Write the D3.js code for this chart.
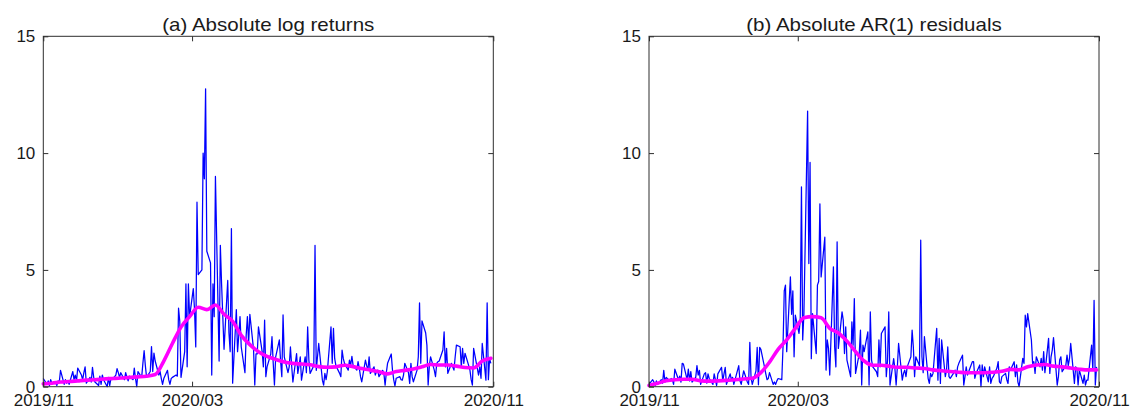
<!DOCTYPE html>
<html>
<head>
<meta charset="utf-8">
<script src="https://cdn.jsdelivr.net/npm/d3@7"></script>
<style>
  html, body { margin: 0; padding: 0; background: #fff; }
  svg { display: block; }
  text { font-family: "Liberation Sans", Arial, Helvetica, sans-serif; fill: #1a1a1a; }
</style>
</head>
<body>
<svg id="chart" width="1131" height="409"></svg>
<script>
// Daily absolute log returns (%), one value per trading day, Nov 2019 - Oct 2020
const absLogReturns = [
  0.35, 0.1, 0.25, 0.05, 0.3, 0.15, 0.2, 0.05, 0.25, 0.2,
  0.7, 0.1, 0.3, 0.15, 0.25, 0.1, 0.65, 0.3, 0.5, 0.25,
  0.8, 0.5, 0.3, 0.6, 0.85, 0.15, 0.4, 0.2, 0.83, 0.4,
  0.2, 0.05, 0.45, 0.1, 0.5, 0.3, 0.0, 0.4, 0.05, 0.35,
  0.3, 0.5, 0.77, 0.6, 0.4, 0.6, 0.3, 0.6, 0.4, 0.25,
  0.45, 0.3, 0.8, 0.35, 0.0, 0.65, 0.4, 1.0, 1.54, 0.9,
  0.4, 0.65, 1.72, 0.65, 1.44, 1.1, 0.5, 0.65, 0.35, 0.1,
  0.35, 0.7, 0.3, 0.1, 0.35, 0.4, 0.5, 0.45, 3.36, 2.8,
  0.4, 1.5, 4.4, 0.85, 4.4, 3.0, 4.2, 3.3, 1.7, 7.9,
  4.8, 5.0, 10.0, 8.9, 12.75, 5.8, 5.3, 0.5, 4.4, 3.0,
  9.0, 1.1, 6.05, 4.4, 3.0, 1.6, 4.55, 2.3, 1.5, 6.77,
  0.15, 3.3, 1.5, 2.2, 3.0, 1.7, 0.6, 2.2, 3.0, 1.85,
  3.1, 1.6, 0.07, 1.4, 1.4, 2.56, 1.5, 0.85, 2.85, 0.43,
  0.85, 1.4, 2.14, 1.0, 0.07, 1.28, 2.0, 1.1, 0.43, 3.07,
  1.28, 0.6, 0.85, 1.7, 0.9, 0.2, 1.42, 0.57, 0.9, 1.28,
  0.28, 1.28, 0.6, 2.56, 1.14, 0.57, 0.9, 6.05, 0.7, 1.28,
  1.85, 0.28, 0.07, 0.57, 0.3, 0.64, 2.56, 1.0, 2.5, 1.2,
  0.9, 0.57, 0.43, 1.57, 1.2, 1.0, 0.71, 1.14, 0.93, 1.3,
  0.9, 0.71, 1.07, 0.8, 0.43, 0.21, 1.14, 0.9, 0.71, 1.28,
  0.57, 0.85, 0.5, 0.64, 0.71, 0.43, 0.7, 0.57, 0.07, 0.6,
  1.0, 1.4, 0.71, 0.3, 0.03, 0.36, 0.43, 0.3, 0.28, 0.5,
  1.0, 0.6, 0.14, 1.0, 0.43, 0.21, 0.71, 1.28, 3.59, 1.0,
  2.82, 2.3, 1.78, 0.07, 0.9, 1.28, 0.71, 0.43, 1.0, 1.07,
  1.1, 1.57, 2.35, 0.85, 1.64, 0.57, 1.0, 0.85, 0.71, 1.28,
  1.78, 1.71, 0.85, 1.64, 1.0, 1.43, 0.9, 0.71, 0.3, 0.07,
  1.64, 0.78, 0.5, 0.85, 0.36, 1.85, 0.28, 3.59, 0.3, 1.2,
  1.0
];

// Daily absolute AR(1) residuals (%), same trading days
const absResiduals = [
  0.1, 0.3, 0.2, 0.05, 0.25, 0.1, 0.3, 0.15, 0.7, 0.2,
  0.4, 0.25, 0.35, 0.3, 0.1, 0.75, 0.3, 0.45, 0.2, 1.0,
  0.97, 0.3, 0.75, 0.25, 0.65, 0.2, 0.4, 0.9, 0.5, 0.7,
  0.1, 0.55, 0.6, 0.15, 0.55, 0.35, 0.1, 0.55, 0.3, 0.05,
  0.55, 0.83, 0.25, 0.55, 0.83, 0.1, 0.55, 0.3, 0.4, 0.1,
  0.3, 0.9, 0.25, 0.1, 0.4, 0.68, 0.2, 0.1, 1.9, 0.4,
  0.1, 0.68, 1.68, 0.08, 1.68, 1.6, 0.83, 0.55, 0.3, 0.35,
  0.6, 0.1, 0.2, 0.1, 0.25, 0.35, 0.3, 1.7, 4.1, 4.35,
  1.5, 4.7, 3.1, 4.1, 1.28, 3.06, 2.28, 2.85, 8.55, 2.0,
  3.13, 11.8, 5.27, 9.6, 1.2, 3.13, 1.42, 4.35, 4.5, 7.83,
  4.7, 6.4, 0.71, 2.0, 1.64, 0.5, 5.13, 1.7, 0.85, 6.2,
  1.64, 3.2, 2.85, 1.42, 2.56, 1.14, 0.43, 2.78, 1.78, 3.77,
  0.57, 1.42, 2.42, 0.07, 1.78, 1.5, 2.35, 0.07, 3.2, 1.14,
  0.85, 0.64, 0.43, 2.0, 0.85, 2.28, 2.56, 0.43, 1.14, 3.2,
  0.07, 1.2, 0.78, 0.07, 0.85, 1.85, 0.28, 0.57, 0.71, 0.43,
  0.85, 1.28, 2.42, 1.7, 0.43, 1.28, 0.9, 6.27, 1.28, 0.6,
  2.14, 0.36, 0.14, 0.57, 0.43, 0.57, 2.5, 0.28, 2.07, 0.14,
  2.0, 0.43, 0.71, 1.7, 0.43, 0.36, 0.6, 0.71, 0.43, 0.85,
  1.0, 1.35, 0.07, 0.43, 0.85, 0.5, 0.93, 1.07, 1.07, 0.36,
  0.57, 0.93, 0.0, 0.93, 0.43, 0.85, 0.21, 0.85, 0.14, 0.36,
  0.43, 0.8, 1.07, 0.21, 0.14, 0.43, 0.57, 0.3, 0.14, 0.85,
  0.71, 1.07, 0.43, 0.93, 0.21, 0.0, 1.21, 1.0, 3.06, 2.56,
  3.13, 2.0, 1.0, 1.07, 0.57, 1.28, 0.85, 1.21, 0.71, 1.5,
  0.6, 2.07, 0.57, 1.28, 1.57, 2.1, 0.07, 0.43, 1.14, 1.28,
  0.64, 0.9, 1.35, 0.9, 1.21, 1.85, 0.14, 0.85, 0.78, 0.07,
  0.71, 0.14, 0.5, 0.07, 0.28, 0.28, 1.78, 0.71, 3.7, 0.07,
  0.85
];

// Smoothed volatility level, sampled every fifth trading day
const trendStep = 5;
const trendReturns = [
  0.12, 0.15, 0.2, 0.22, 0.25, 0.28, 0.3, 0.33, 0.35, 0.37,
  0.4, 0.42, 0.45, 0.52, 1.1, 1.85, 2.55, 3.0, 3.4, 3.3,
  3.5, 3.1, 2.8, 2.2, 1.8, 1.5, 1.3, 1.17, 1.06, 1.0,
  0.97, 0.94, 0.86, 0.83, 0.85, 0.92, 0.86, 0.78, 0.71, 0.64,
  0.55, 0.65, 0.7, 0.76, 0.85, 0.95, 0.93, 0.93, 0.88, 0.82,
  0.8, 1.1, 1.22
];
const trendResiduals = [
  0.05, 0.15, 0.25, 0.3, 0.32, 0.32, 0.25, 0.24, 0.25, 0.27,
  0.3, 0.33, 0.36, 0.6, 1.05, 1.6, 2.0, 2.5, 2.95, 3.0,
  2.95, 2.5, 2.3, 1.95, 1.5, 1.1, 0.92, 0.92, 0.87, 0.83,
  0.83, 0.8, 0.78, 0.72, 0.68, 0.65, 0.62, 0.6, 0.6, 0.6,
  0.62, 0.66, 0.74, 0.72, 0.85, 0.93, 0.95, 0.88, 0.85, 0.8,
  0.75, 0.72, 0.72
];

const panelTitles = ["(a) Absolute log returns", "(b) Absolute AR(1) residuals"];
const yTicks = [0, 5, 10, 15];
const xTickLabels = ["2019/11", "2020/03", "2020/11"];

// Trading calendar: every weekday from the first to the last sample
const parseMonth = d3.timeParse("%Y/%m");
const firstDay = new Date(2019, 10, 1);
const lastDay = new Date(2020, 9, 30);
const tradingDays = d3.timeDay.range(firstDay, d3.timeDay.offset(lastDay, 1))
  .filter(d => d.getDay() !== 0 && d.getDay() !== 6);

const svg = d3.select("#chart");
const W = 1131, H = 409;
svg.append("rect").attr("width", W).attr("height", H).attr("fill", "#fff");

const plotW = 450;
const plotTop = 36.3, plotBottom = 386.7;
const panels = [
  { left: 43.3, values: absLogReturns, trend: trendReturns, title: panelTitles[0] },
  { left: 649, values: absResiduals, trend: trendResiduals, title: panelTitles[1] }
];

const xTickDates = xTickLabels.map(parseMonth);
const fmt = d3.timeFormat("%Y/%m");
const axisColor = "#2e2e2e";
const tickSize = "17px";
const titleSize = "18px";

panels.forEach(p => {
  const g = svg.append("g").attr("transform", `translate(${p.left},0)`);
  const x = d3.scaleTime().domain([xTickDates[0], xTickDates[2]]).range([0, plotW]);
  const y = d3.scaleLinear().domain([0, 15]).range([plotBottom, plotTop]);

  const series = p.values.map((v, i) => ({ date: tradingDays[i], v }));
  const trend = p.trend.map((v, k) => ({ date: tradingDays[Math.min(k * trendStep, tradingDays.length - 1)], v }));

  const line = d3.line().x(d => x(d.date)).y(d => y(d.v));

  g.append("path")
    .datum(series)
    .attr("d", line)
    .attr("fill", "none")
    .attr("stroke", "#0000ff")
    .attr("stroke-width", 1.25)
    .attr("stroke-linejoin", "round");

  g.append("path")
    .datum(trend)
    .attr("d", line.curve(d3.curveMonotoneX))
    .attr("fill", "none")
    .attr("stroke", "#ff00ff")
    .attr("stroke-width", 3.6)
    .attr("stroke-linejoin", "round")
    .attr("stroke-linecap", "round");

  // Axes: ticks point inward on all four sides, labels on left and bottom
  const axLeft = d3.axisLeft(y).tickValues(yTicks).tickSize(-5).tickPadding(8).tickFormat(d3.format("d"));
  const axRight = d3.axisRight(y).tickValues(yTicks).tickSize(-5).tickFormat("");
  const axBottom = d3.axisBottom(x).tickValues(xTickDates).tickSize(-5).tickPadding(7.3).tickFormat(fmt);
  const axTop = d3.axisTop(x).tickValues(xTickDates).tickSize(-5).tickFormat("");

  const styleAxis = sel => {
    sel.select(".domain").attr("stroke", axisColor).attr("stroke-width", 1);
    sel.selectAll(".tick line").attr("stroke", axisColor).attr("stroke-width", 1);
    sel.selectAll(".tick text").attr("fill", "#1a1a1a").style("font-size", tickSize);
  };

  g.append("g").call(axLeft).call(styleAxis);
  g.append("g").attr("transform", `translate(${plotW},0)`).call(axRight).call(styleAxis);
  g.append("g").attr("transform", `translate(0,${plotBottom})`).call(axBottom).call(styleAxis);
  g.append("g").attr("transform", `translate(0,${plotTop})`).call(axTop).call(styleAxis);

  g.selectAll(".domain").attr("d", null);
  g.append("rect")
    .attr("x", 0).attr("y", plotTop)
    .attr("width", plotW).attr("height", plotBottom - plotTop)
    .attr("fill", "none").attr("stroke", axisColor).attr("stroke-width", 1);

  // Panel title, set slightly wide as in the printed figure
  g.append("text")
    .attr("transform", `translate(${plotW / 2},30.5) scale(1.14,1)`)
    .attr("text-anchor", "middle")
    .style("font-size", titleSize)
    .text(p.title);
});
</script>
</body>
</html>
